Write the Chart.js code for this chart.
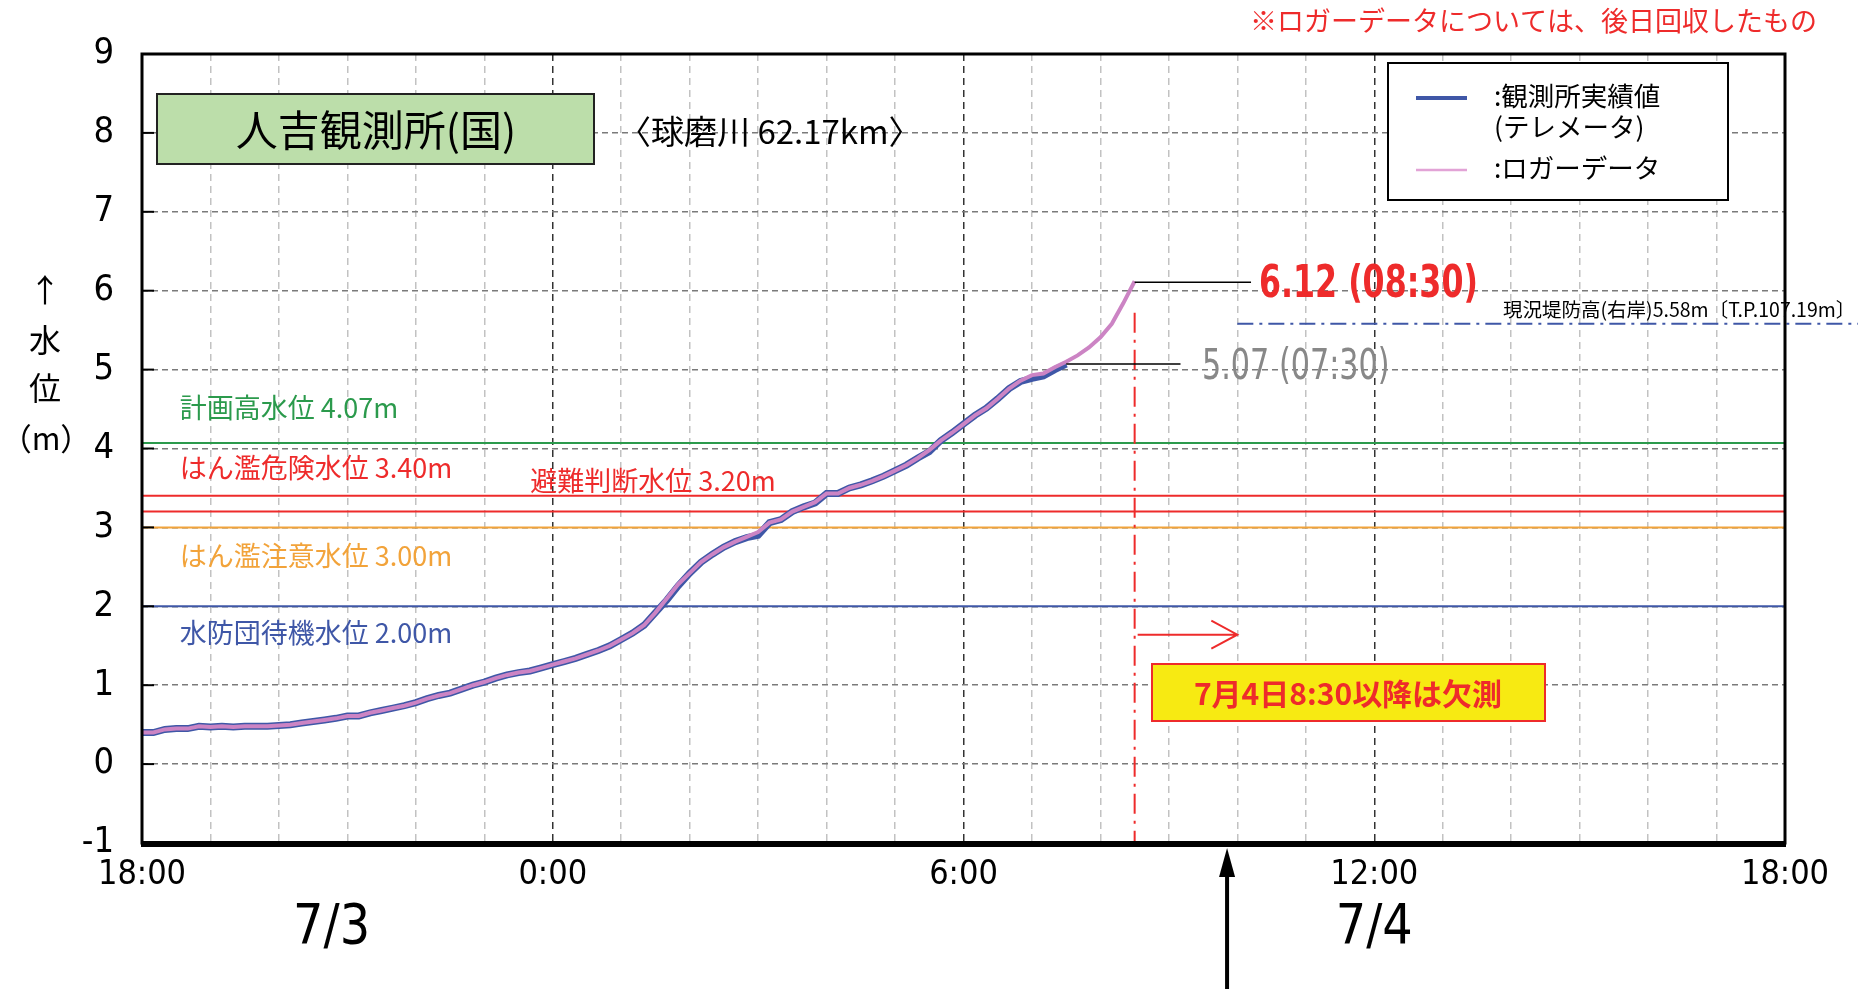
<!DOCTYPE html>
<html lang="ja">
<head>
<meta charset="UTF-8">
<title>人吉観測所(国) 水位</title>
<script src="https://cdn.jsdelivr.net/npm/chart.js"></script>
<style>
  body { margin: 0; background: #fff; }
  #wrap { position: relative; width: 1866px; height: 989px; }
</style>
</head>
<body>
<div id="wrap"><canvas id="levelChart"></canvas></div>
<script>
// hours counted from 7/3 18:00, one reading every 10 minutes
const stepMinutes = 10;

// 観測所実績値 (テレメータ) : 7/3 18:00 - 7/4 07:30
const observed = [
  0.40, 0.40, 0.44, 0.45, 0.45, 0.48, 0.47, 0.48, 0.47, 0.48, 0.48, 0.48,
  0.49, 0.50, 0.52, 0.54, 0.56, 0.58, 0.61, 0.61, 0.65, 0.68, 0.71, 0.74,
  0.78, 0.83, 0.87, 0.90, 0.95, 1.00, 1.04, 1.09, 1.13, 1.16, 1.18, 1.22,
  1.26, 1.30, 1.34, 1.39, 1.44, 1.50, 1.58, 1.66, 1.76, 1.92, 2.08, 2.26,
  2.42, 2.56, 2.66, 2.75, 2.82, 2.87, 2.90, 3.06, 3.10, 3.20, 3.26, 3.31,
  3.43, 3.43, 3.50, 3.54, 3.59, 3.65, 3.72, 3.79, 3.88, 3.96, 4.10, 4.20,
  4.31, 4.42, 4.51, 4.63, 4.76, 4.85, 4.89, 4.92, 5.00, 5.07
];

// ロガーデータ : 7/3 18:00 - 7/4 08:30
const logger = [
  0.40, 0.40, 0.44, 0.45, 0.45, 0.48, 0.47, 0.48, 0.47, 0.48, 0.48, 0.48,
  0.49, 0.50, 0.52, 0.54, 0.56, 0.58, 0.61, 0.61, 0.65, 0.68, 0.71, 0.74,
  0.78, 0.83, 0.87, 0.90, 0.95, 1.00, 1.04, 1.09, 1.13, 1.16, 1.18, 1.22,
  1.26, 1.30, 1.34, 1.39, 1.44, 1.50, 1.58, 1.66, 1.76, 1.92, 2.10, 2.28,
  2.42, 2.56, 2.66, 2.75, 2.82, 2.88, 2.94, 3.06, 3.10, 3.20, 3.26, 3.32,
  3.43, 3.43, 3.50, 3.54, 3.59, 3.65, 3.72, 3.79, 3.88, 3.98, 4.10, 4.20,
  4.31, 4.42, 4.51, 4.63, 4.76, 4.86, 4.93, 4.95, 5.03, 5.10, 5.18, 5.28,
  5.41, 5.58, 5.84, 6.12
];

const xTickLabels = ['18:00', '0:00', '6:00', '12:00', '18:00'];
const dayLabels = ['7/3', '7/4'];

const levelValues = [4.07, 3.40, 3.20, 3.00, 2.00];
const levelLabels = ['計画高水位 4.07m', 'はん濫危険水位 3.40m', '避難判断水位 3.20m', 'はん濫注意水位 3.00m', '水防団待機水位 2.00m'];
const leveeHeight = 5.58;
const leveeLabel = '現況堤防高(右岸)5.58m〔T.P.107.19m〕';
const peakLabel = '6.12 (08:30)';
const lastObservedLabel = '5.07 (07:30)';
const missingLabel = '7月4日8:30以降は欠測';

// layout / style
const levelColors = ['#2b9a4c', '#ee2b2b', '#ee2b2b', '#f2a33a', '#3f57a7'];
const levelLabelPos = [[0.55, 4.52], [0.55, 3.75], [5.67, 3.59], [0.55, 2.64], [0.55, 1.66]];
const narrow = '"Liberation Sans Narrow", "DejaVu Sans Condensed", "Liberation Sans", sans-serif';
const jp = '"Noto Sans CJK JP", sans-serif';
const hourOf = i => i * stepMinutes / 60;

// draw text squeezed horizontally, like the condensed face of the original
function narrowText(ctx, text, x, y, sx) {
  ctx.save();
  ctx.translate(x, y);
  ctx.scale(sx, 1);
  ctx.fillText(text, 0, 0);
  ctx.restore();
}

const overlay = {
  id: 'overlay',
  beforeDatasetsDraw(chart) {
    const { ctx, chartArea: a, scales: { x, y } } = chart;
    ctx.save();
    ctx.textBaseline = 'middle';
    // warning levels
    levelValues.forEach((v, i) => {
      const py = y.getPixelForValue(v);
      ctx.strokeStyle = levelColors[i];
      ctx.lineWidth = 2;
      ctx.beginPath(); ctx.moveTo(a.left, py); ctx.lineTo(a.right, py); ctx.stroke();
      ctx.fillStyle = levelColors[i];
      ctx.font = '27px ' + jp;
      ctx.fillText(levelLabels[i], x.getPixelForValue(levelLabelPos[i][0]), y.getPixelForValue(levelLabelPos[i][1]));
    });
    // missing-data marker
    const px = x.getPixelForValue(14.5);
    ctx.strokeStyle = '#ee2b2b';
    ctx.lineWidth = 2;
    ctx.setLineDash([20, 7, 3, 7]);
    ctx.beginPath(); ctx.moveTo(px, y.getPixelForValue(5.72)); ctx.lineTo(px, a.bottom); ctx.stroke();
    ctx.setLineDash([]);
    const ay = y.getPixelForValue(1.64), ax2 = x.getPixelForValue(16);
    ctx.beginPath(); ctx.moveTo(px + 3, ay); ctx.lineTo(ax2, ay);
    ctx.moveTo(ax2 - 26, ay - 14); ctx.lineTo(ax2, ay); ctx.lineTo(ax2 - 26, ay + 14);
    ctx.stroke();
    ctx.restore();
  },
  afterDraw(chart) {
    const { ctx, chartArea: a, scales: { x, y }, width } = chart;
    ctx.save();
    ctx.textBaseline = 'middle';

    // levee height (dash-dot) extends past plot
    const ly = y.getPixelForValue(leveeHeight);
    ctx.strokeStyle = '#3f57a7';
    ctx.lineWidth = 2;
    ctx.setLineDash([16, 6, 3, 6]);
    ctx.beginPath(); ctx.moveTo(x.getPixelForValue(16), ly); ctx.lineTo(width - 8, ly); ctx.stroke();
    ctx.setLineDash([]);
    ctx.fillStyle = '#000';
    ctx.font = '19.5px ' + jp;
    ctx.fillText(leveeLabel, 1503, ly - 14);

    // leader lines and value labels
    ctx.strokeStyle = '#000';
    ctx.lineWidth = 1.5;
    const pY = y.getPixelForValue(6.12) + 1;
    ctx.beginPath(); ctx.moveTo(x.getPixelForValue(14.5), pY); ctx.lineTo(x.getPixelForValue(16.2), pY); ctx.stroke();
    const oY = y.getPixelForValue(5.07);
    ctx.beginPath(); ctx.moveTo(x.getPixelForValue(13.5), oY); ctx.lineTo(x.getPixelForValue(15.17), oY); ctx.stroke();
    ctx.fillStyle = '#ee2b2b';
    ctx.font = 'bold 44px ' + narrow;
    narrowText(ctx, peakLabel, 1259, pY + 3, 0.8);
    ctx.fillStyle = '#888';
    ctx.font = '42px ' + narrow;
    narrowText(ctx, lastObservedLabel, 1202, oY + 4, 0.8);

    // missing-data box
    ctx.fillStyle = '#f7ea12';
    ctx.fillRect(1152, 664, 393, 57);
    ctx.strokeStyle = '#ee2b2b';
    ctx.lineWidth = 2;
    ctx.strokeRect(1152, 664, 393, 57);
    ctx.fillStyle = '#ee2b2b';
    ctx.font = 'bold 30px ' + jp;
    ctx.textAlign = 'center';
    ctx.fillText(missingLabel, 1348, 694);

    // station title box
    ctx.fillStyle = '#bcdeaa';
    ctx.fillRect(157, 94, 437, 70);
    ctx.strokeStyle = '#222';
    ctx.lineWidth = 2;
    ctx.strokeRect(157, 94, 437, 70);
    ctx.fillStyle = '#000';
    ctx.font = '42px ' + jp;
    ctx.fillText('人吉観測所(国)', 376, 130);
    ctx.textAlign = 'left';
    ctx.font = '33px ' + jp;
    ctx.fillText('〈球磨川 62.17km〉', 618, 131);

    // legend
    ctx.fillStyle = '#fff';
    ctx.fillRect(1388, 63, 340, 137);
    ctx.strokeStyle = '#000';
    ctx.strokeRect(1388, 63, 340, 137);
    ctx.lineWidth = 4;
    ctx.strokeStyle = '#3f57a7';
    ctx.beginPath(); ctx.moveTo(1416, 98); ctx.lineTo(1467, 98); ctx.stroke();
    ctx.lineWidth = 2.5;
    ctx.strokeStyle = '#e2a3d6';
    ctx.beginPath(); ctx.moveTo(1416, 170); ctx.lineTo(1467, 170); ctx.stroke();
    ctx.fillStyle = '#000';
    ctx.font = '26.5px ' + jp;
    ctx.fillText(':観測所実績値', 1494, 96);
    ctx.fillText('(テレメータ)', 1494, 127);
    ctx.fillText(':ロガーデータ', 1494, 168);

    // note
    ctx.fillStyle = '#ee2b2b';
    ctx.font = '27px ' + jp;
    ctx.fillText('※ロガーデータについては、後日回収したもの', 1250, 21);

    // y axis title
    ctx.fillStyle = '#000';
    ctx.textAlign = 'center';
    ctx.font = '32px ' + jp;
    ctx.fillText('↑', 45, 290);
    ctx.fillText('水', 45, 340);
    ctx.fillText('位', 45, 388);
    ctx.font = '31px ' + jp;
    ctx.fillText('（m）', 46, 438);

    // day labels
    ctx.font = '56px ' + narrow;
    narrowText(ctx, dayLabels[0], x.getPixelForValue(2.77), 928, 0.95);
    narrowText(ctx, dayLabels[1], x.getPixelForValue(18), 928, 0.95);

    // inner tick marks on y axis
    ctx.strokeStyle = '#000';
    ctx.lineWidth = 2;
    for (let v = -1; v <= 9; v++) {
      const ty = y.getPixelForValue(v);
      ctx.beginPath(); ctx.moveTo(a.left, ty); ctx.lineTo(a.left + 12, ty); ctx.stroke();
    }

    // plot frame
    ctx.lineWidth = 3;
    ctx.strokeRect(a.left, a.top, a.right - a.left, a.bottom - a.top);
    ctx.lineWidth = 6;
    ctx.beginPath(); ctx.moveTo(a.left - 1, a.bottom + 1); ctx.lineTo(a.right + 1, a.bottom + 1); ctx.stroke();

    // time marker arrow
    const mx = x.getPixelForValue(15.85);
    ctx.lineWidth = 4;
    ctx.beginPath(); ctx.moveTo(mx, a.bottom + 30); ctx.lineTo(mx, chart.height); ctx.stroke();
    ctx.fillStyle = '#000';
    ctx.beginPath(); ctx.moveTo(mx, a.bottom + 5); ctx.lineTo(mx - 8, a.bottom + 34); ctx.lineTo(mx + 8, a.bottom + 34); ctx.closePath(); ctx.fill();
    ctx.restore();
  }
};

new Chart(document.getElementById('levelChart'), {
  type: 'line',
  data: {
    datasets: [
      {
        label: 'ロガーデータ',
        data: logger.map((v, i) => ({ x: hourOf(i), y: v })),
        borderColor: '#cc84c4',
        borderWidth: 4,
        pointRadius: 0,
        tension: 0,
        order: 0
      },
      {
        label: '観測所実績値',
        data: observed.map((v, i) => ({ x: hourOf(i), y: v })),
        borderColor: '#3f57a7',
        borderWidth: 7,
        pointRadius: 0,
        tension: 0,
        order: 1
      }
    ]
  },
  options: {
    responsive: true,
    maintainAspectRatio: false,
    animation: false,
    layout: { padding: { top: 54, right: 81, left: 0, bottom: 0 } },
    plugins: { legend: { display: false }, tooltip: { enabled: false } },
    scales: {
      x: {
        type: 'linear',
        min: 0,
        max: 24,
        afterFit(s) { s.height = 146; },
        ticks: {
          stepSize: 1,
          autoSkip: false,
          maxRotation: 0,
          padding: 12,
          color: '#000',
          font: { family: narrow, size: 34 },
          callback: v => (v % 6 === 0 ? xTickLabels[v / 6] : '')
        },
        grid: {
          drawTicks: false,
          lineWidth: 1.5,
          color: c => (c.tick && c.tick.value % 6 === 0 ? '#333' : '#c2c2c2')
        },
        border: { display: false, dash: [7, 5] }
      },
      y: {
        min: -1,
        max: 9,
        afterFit(s) { s.width = 142; },
        ticks: {
          stepSize: 1,
          padding: 28,
          color: '#000',
          font: { family: narrow, size: 36 }
        },
        grid: { drawTicks: false, lineWidth: 1.5, color: '#7a7a7a' },
        border: { display: false, dash: [6, 4] }
      }
    }
  },
  plugins: [overlay]
});
</script>
</body>
</html>
